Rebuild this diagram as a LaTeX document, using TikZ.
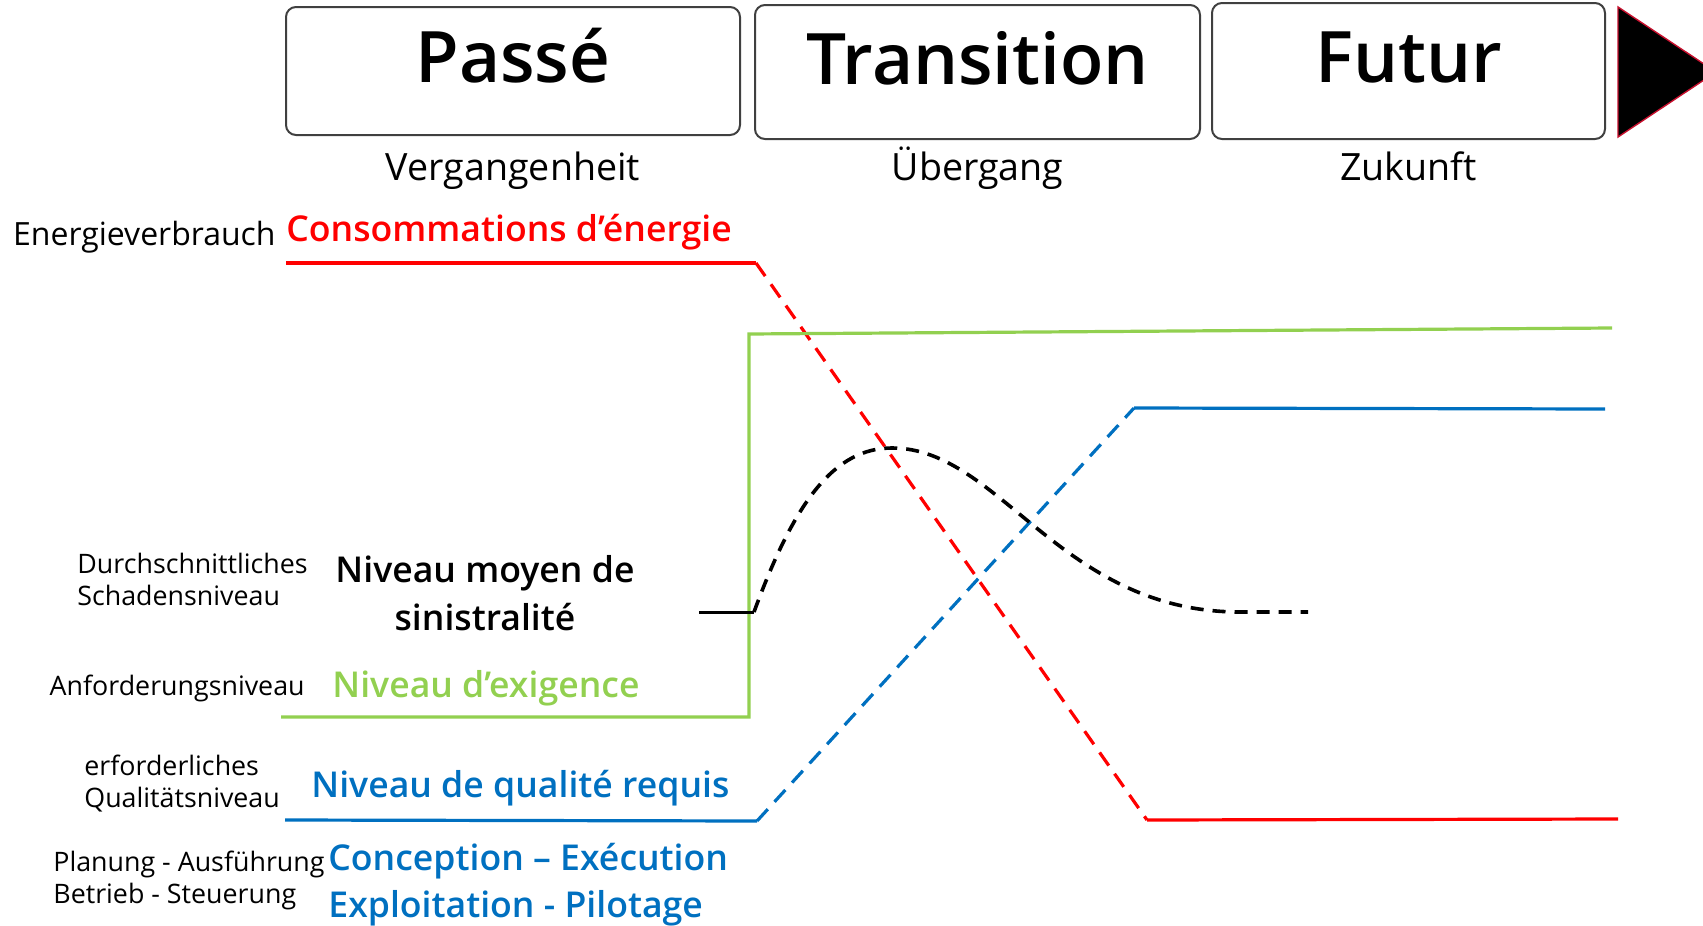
\documentclass[tikz,border=0pt]{standalone}
\usepackage{fontspec}
\setmainfont{Open Sans}
\IfFontExistsTF{Open Sans SemiBold}{\newfontfamily\headfont{Open Sans SemiBold}}{%
  \IfFontExistsTF{Open Sans Semibold}{\newfontfamily\headfont{Open Sans Semibold}}{\newcommand\headfont{\bfseries}}}
\usetikzlibrary{positioning}
\definecolor{energyred}{HTML}{FF0000}
\definecolor{levelgreen}{HTML}{92D050}
\definecolor{qualityblue}{HTML}{0070C0}
\definecolor{arrowedge}{HTML}{C8102E}
\tikzset{
  every node/.style={inner sep=0pt},
  phase/.style={draw=black!75,line width=1pt,rounded corners=5pt,
    font=\headfont\fontsize{35.5}{40}\selectfont,text height=20pt,text depth=8pt},
  phasesub/.style={anchor=base,font=\fontsize{18.8}{22}\selectfont},
  delabel/.style={align=left,font=\fontsize{13.4}{16}\selectfont},
  frlabel/.style={font=\headfont\fontsize{17.8}{24}\selectfont},
  level/.style={line width=1.6pt},
  trend/.style={line width=1.6pt,dash pattern=on 8pt off 5pt}
}

\begin{document}
\begin{tikzpicture}[x=0.5pt,y=-0.5pt]
  \useasboundingbox (0,0) rectangle (1703,926);
  % phases
  \foreach \id/\cx/\cy/\w/\h/\txt/\de in {
      passe/513/71/227/64/Passé/Vergangenheit,
      trans/977.5/72/222.5/67/Transition/Übergang,
      futur/1408.5/71/196.5/68/Futur/Zukunft} {
    \node[phase,minimum width=\w pt,minimum height=\h pt] (\id) at (\cx,\cy) {\txt};
    \node[phasesub] (\id-de) at (\cx,180) {\de};
  }
  % time arrow
  \filldraw[fill=black,draw=arrowedge,line width=0.7pt]
    (1618,7) -- (1716,72) -- (1618,137) -- cycle;

  % labels (base = last line)
  \node[anchor=base east,font=\fontsize{16}{19}\selectfont] (energy-de) at (276,245) {Energieverbrauch};
  \node[frlabel,anchor=base west,text=energyred] (energy) at (286,241) {Consommations d’énergie};
  \node[delabel,anchor=base west] (damage-de) at (77,605) {Durchschnittliches\\Schadensniveau};
  \node[frlabel,align=center,anchor=base] (damage) at (485,630) {Niveau moyen de\\sinistralité};
  \node[delabel,anchor=base east] (demand-de) at (305,695) {Anforderungsniveau};
  \node[frlabel,anchor=base west,text=levelgreen] (demand) at (332,697) {Niveau d’exigence};
  \node[delabel,anchor=base west] (quality-de) at (84,807) {erforderliches\\Qualitätsniveau};
  \node[frlabel,anchor=base west,text=qualityblue] (quality) at (311,797) {Niveau de qualité requis};
  \node[delabel,anchor=base west] (stages-de) at (53,903) {Planung - Ausführung\\Betrieb - Steuerung};
  \node[frlabel,align=left,anchor=base west,text=qualityblue,font=\headfont\fontsize{17.8}{23.5}\selectfont] (stages) at (328,917) {Conception – Exécution\\Exploitation - Pilotage};

  % curve points
  \coordinate (e0) at (286,263);
  \coordinate (e1) at (756,263);
  \coordinate (e2) at (1147,820);
  \coordinate (e3) at (1618,819);
  \coordinate (g0) at (281,717);
  \coordinate (g1) at (749,717);
  \coordinate (g2) at (749,334);
  \coordinate (g3) at (1612,328);
  \coordinate (b0) at (285,820);
  \coordinate (b1) at (757,821);
  \coordinate (b2) at (1134,408);
  \coordinate (b3) at (1605,409);
  \coordinate (k0) at (699,612);
  \coordinate (k1) at (754,612);
  \coordinate (k2) at (892,448);
  \coordinate (k3) at (1240,612);
  \coordinate (k4) at (1308,612);

  % energy
  \draw[level,energyred] (e0) -- (e1);
  \draw[trend,energyred] (e1) -- (e2);
  \draw[level,energyred] (e2) -- (e3);
  % demand
  \draw[level,levelgreen] (g0) -- (g1) -- (g2) -- (g3);
  % quality
  \draw[level,qualityblue] (b0) -- (b1);
  \draw[trend,qualityblue] (b1) -- (b2);
  \draw[level,qualityblue] (b2) -- (b3);
  % damage
  \draw[line width=1.5pt] (k0) -- (k1);
  \draw[line width=1.8pt,dash pattern=on 6.5pt off 4.5pt]
    (k1) .. controls (795,500) and (835,448) .. (k2)
         .. controls (1000,448) and (1060,612) .. (k3) -- (k4);
\end{tikzpicture}
\end{document}
